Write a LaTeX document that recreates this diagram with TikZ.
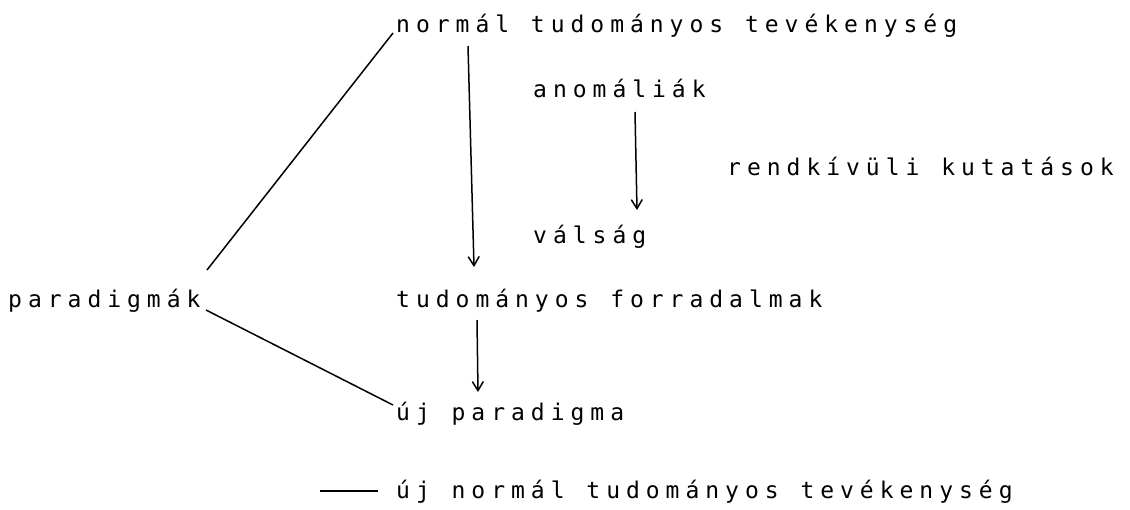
\documentclass[tikz,border=0pt]{standalone}
\usepackage{fontspec}
\newfontfamily\plotfont[LetterSpace=26]{DejaVu Sans Mono}
\newcommand\plotsetup{\plotfont\fontsize{23}{23}\selectfont}
\usetikzlibrary{arrows.meta}
\begin{document}
\begin{tikzpicture}[x=1pt,y=-1pt,
  lbl/.style={anchor=base west,inner sep=0pt,font=\plotsetup,
    execute at begin node={\spaceskip=21.8pt\relax}},
  conn/.style={line width=1.5pt},
  arr/.style={conn,-{Straight Barb[length=9pt,width=11pt]}}]
\useasboundingbox (0,0) rectangle (1130,509);
\node[lbl] (ntt) at (396,32) {normál tudományos tevékenység};
\node[lbl] (ano) at (533,97) {anomáliák};
\node[lbl] (rkk) at (727,175) {rendkívüli kutatások};
\node[lbl] (val) at (533,243) {válság};
\node[lbl] (par) at (8,307) {paradigmák};
\node[lbl] (tfo) at (396,307) {tudományos forradalmak};
\node[lbl] (upa) at (396,420) {új paradigma};
\node[lbl] (unt) at (396,498) {új normál tudományos tevékenység};
% connector ends
\coordinate (p1) at (207,270);
\coordinate (n1) at (393,33);
\coordinate (n2) at (468,46);
\coordinate (t1) at (474,267);
\coordinate (a1) at (635,112);
\coordinate (v1) at (637,210);
\coordinate (t2) at (477,320);
\coordinate (u1) at (478,392);
\coordinate (p2) at (206,310);
\coordinate (u2) at (393,405);
\coordinate (d1) at (320,491);
\coordinate (d2) at (378,491);
\draw[conn] (p1) -- (n1);
\draw[conn] (p2) -- (u2);
\draw[arr] (n2) -- (t1);
\draw[arr] (a1) -- (v1);
\draw[arr] (t2) -- (u1);
\draw[conn] (d1) -- (d2);
\end{tikzpicture}
\end{document}
